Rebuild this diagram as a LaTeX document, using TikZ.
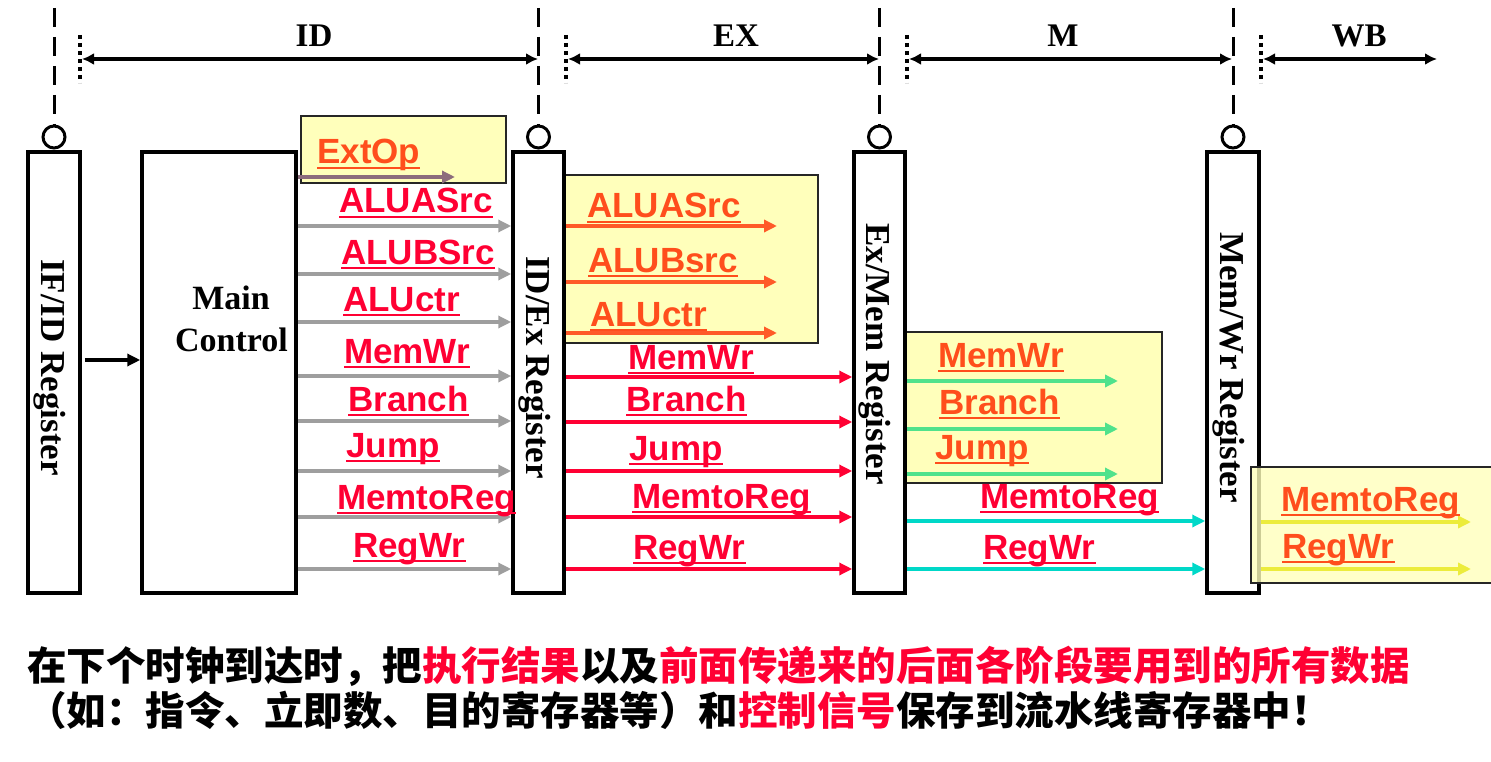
\documentclass[tikz,border=0pt]{standalone}
\usepackage{fontspec}
\setmainfont{Liberation Serif}
\newfontfamily\arialf{Liberation Sans}
\newfontfamily\cjk{Noto Sans CJK SC}
\usetikzlibrary{arrows.meta}
\definecolor{cred}{RGB}{255,0,51}
\definecolor{corange}{RGB}{255,78,28}
\definecolor{caro}{RGB}{255,90,40}
\definecolor{cgray}{RGB}{158,158,158}
\definecolor{cyel}{RGB}{255,255,187}
\definecolor{cgreen}{RGB}{80,226,140}
\definecolor{ccyan}{RGB}{0,216,200}
\definecolor{cyarrow}{RGB}{236,236,60}
\definecolor{cmauve}{RGB}{140,108,124}
\tikzset{
  reg/.style={draw=black, line width=3.5pt, fill=white, inner sep=0pt},
  regtext/.style={rotate=-90, anchor=base, inner sep=0pt, font=\bfseries\fontsize{35}{35}\selectfont},
  clk/.style={circle, draw=black, line width=3pt, fill=white, minimum size=22pt, inner sep=0pt},
  clkline/.style={draw=black, line width=3pt, dash pattern=on 19pt off 10pt},
  dotline/.style={draw=black, line width=3.5pt, dash pattern=on 4pt off 4pt},
  stagearrow/.style={draw=black, line width=3.5pt, {Latex[length=12pt,width=12pt]}-{Latex[length=12pt,width=12pt]}},
  stagelab/.style={anchor=base, inner sep=0pt, font=\bfseries\fontsize{33}{33}\selectfont},
  ybox/.style={draw=black!85, line width=2pt, fill=cyel},
  sig/.style={anchor=base west, inner sep=0pt, font=\arialf\bfseries\fontsize{35}{35}\selectfont},
  tipA/.style={-{Triangle[length=13pt,width=12pt]}},
  garrow/.style={tipA, draw=cgray, line width=4pt},
  rarrow/.style={tipA, draw=cred, line width=3.5pt},
  oarrow/.style={tipA, draw=caro, line width=3.5pt},
  grarrow/.style={tipA, draw=cgreen, line width=4pt},
  carrow/.style={tipA, draw=ccyan, line width=4pt},
  yarrow/.style={tipA, draw=cyarrow, line width=4pt},
  marrow/.style={tipA, draw=cmauve, line width=3.5pt},
  blkarrow/.style={-{Triangle[length=13pt,width=12pt]}, draw=black, line width=3.5pt},
  cjktext/.style={anchor=base west, inner sep=0pt, font=\cjk\bfseries\fontsize{39.5}{40}\selectfont}
}
\newcommand\siglab[4]{%
  \node[sig, text=#3] (#1) at (#2) {#4};
  \draw[#3, line width=2.5pt] ([yshift=-4pt]#1.base west) -- ([yshift=-4pt]#1.base east);
}
\begin{document}
\begin{tikzpicture}[x=1pt, y=-1pt]
\useasboundingbox (0,0) rectangle (1491,762);
\clip (0,0) rectangle (1491,762);

% stage markers
\foreach \n/\x in {a/54, b/538.5, c/879.5, d/1233} {
  \coordinate (top\n) at (\x,8);
}
\foreach \n/\x in {a/80, b/566, c/907, d/1261} {
  \coordinate (dt\n) at (\x,35);
  \coordinate (db\n) at (\x,83);
  \draw[dotline] (dt\n) -- (db\n);
}
\coordinate (s1l) at (82,59);   \coordinate (s1r) at (538,59);
\coordinate (s2l) at (568,59);  \coordinate (s2r) at (879,59);
\coordinate (s3l) at (909,59);  \coordinate (s3r) at (1232,59);
\coordinate (s4l) at (1263,59); \coordinate (s4r) at (1437,59);
\draw[stagearrow] (s1l) -- (s1r);
\draw[stagearrow] (s2l) -- (s2r);
\draw[stagearrow] (s3l) -- (s3r);
\draw[stagearrow] (s4l) -- (s4r);
\node[stagelab] (stID) at (314,47) {ID};
\node[stagelab] (stEX) at (736,47) {EX};
\node[stagelab] (stM) at (1063,47) {M};
\node[stagelab] (stWB) at (1359,47) {WB};

% yellow boxes (behind)
\node[ybox, minimum width=205pt, minimum height=67pt, inner sep=0pt] (boxext) at (403.5,149.5) {};
\node[ybox, minimum width=254pt, minimum height=168pt, inner sep=0pt] (boxex) at (691,259) {};
\node[ybox, minimum width=256pt, minimum height=151pt, inner sep=0pt] (boxm) at (1034,407.5) {};

% registers
\node[reg, minimum width=52pt, minimum height=441pt] (ifid) at (54,372.5) {};
\node[reg, minimum width=154pt, minimum height=441pt] (mc) at (219,372.5) {};
\node[reg, minimum width=51pt, minimum height=441pt] (idex) at (538.5,372.5) {};
\node[reg, minimum width=51pt, minimum height=441pt] (exmem) at (879.5,372.5) {};
\node[reg, minimum width=52pt, minimum height=441pt] (memwr) at (1233,372.5) {};

\node[regtext] (tifid) at (41,367.5) {IF/ID Register};
\node[regtext] (tidex) at (526,367.5) {ID/Ex Register};
\node[regtext] (texmem) at (866,354) {Ex/Mem Register};
\node[regtext] (tmemwr) at (1220,367.5) {Mem/Wr Register};
\node[anchor=base, inner sep=0pt, font=\bfseries\fontsize{34}{34}\selectfont] (mc1) at (231,309) {Main};
\node[anchor=base, inner sep=0pt, font=\bfseries\fontsize{34}{34}\selectfont] (mc2) at (231.5,351) {Control};

% clocks
\node[clk] (ca) at (54,137) {};
\node[clk] (cb) at (538.5,137) {};
\node[clk] (cc) at (879.5,137) {};
\node[clk] (cd) at (1233,137) {};
\draw[clkline] (topa) -- (ca.north);
\draw[clkline] (topb) -- (cb.north);
\draw[clkline] (topc) -- (cc.north);
\draw[clkline] (topd) -- (cd.north);

% IF/ID -> Main Control
\draw[blkarrow] ([xshift=3pt]ifid.east |- 0,360) -- (mc.west |- 0,360);

% end points in free space
\coordinate (extend) at (455,0);
\coordinate (exend) at (777,0);
\coordinate (mend) at (1118,0);
\coordinate (wend) at (1471,0);

% arrows
\draw[marrow] (mc.east |- 0,177) -- (extend |- 0,177);
\foreach \y in {226,274,322,376,421,471,517,569}
  \draw[garrow] (mc.east |- 0,\y) -- (idex.west |- 0,\y);
\foreach \y in {226,282,333}
  \draw[oarrow] (idex.east |- 0,\y) -- (exend |- 0,\y);
\foreach \y in {377,422,471,517,569}
  \draw[rarrow] (idex.east |- 0,\y) -- (exmem.west |- 0,\y);
\foreach \y in {381,429,474}
  \draw[grarrow] (exmem.east |- 0,\y) -- (mend |- 0,\y);
\foreach \y in {521,569}
  \draw[carrow] (exmem.east |- 0,\y) -- (memwr.west |- 0,\y);

% WB box (translucent, over the register)
\node[ybox, fill opacity=0.8, minimum width=250pt, minimum height=116pt, inner sep=0pt] (boxwb) at (1376,525) {};
\foreach \y in {522,569}
  \draw[yarrow] (memwr.east |- 0,\y) -- (wend |- 0,\y);

% labels
\siglab{tExt}{317,164}{corange}{ExtOp}
\siglab{tAa}{339,213}{cred}{ALUASrc}
\siglab{tAb}{341,264}{cred}{ALUBSrc}
\siglab{tAc}{343,311}{cred}{ALUctr}
\siglab{tMw}{344,363}{cred}{MemWr}
\siglab{tBr}{348,411}{cred}{Branch}
\siglab{tJp}{346,457}{cred}{Jump}
\siglab{tMr}{337,509}{cred}{MemtoReg}
\siglab{tRw}{353,557}{cred}{RegWr}

\siglab{eAa}{587,218}{corange}{ALUASrc}
\siglab{eAb}{588,272}{corange}{ALUBsrc}
\siglab{eAc}{590,326}{corange}{ALUctr}
\siglab{eMw}{628,369}{cred}{MemWr}
\siglab{eBr}{626,411}{cred}{Branch}
\siglab{eJp}{629,460}{cred}{Jump}
\siglab{eMr}{632,508}{cred}{MemtoReg}
\siglab{eRw}{633,559}{cred}{RegWr}

\siglab{mMw}{938,367}{corange}{MemWr}
\siglab{mBr}{939,414}{corange}{Branch}
\siglab{mJp}{935,459}{corange}{Jump}
\siglab{mMr}{980,508}{cred}{MemtoReg}
\siglab{mRw}{983,559}{cred}{RegWr}

\siglab{wMr}{1281,511}{corange}{MemtoReg}
\siglab{wRw}{1282,558}{corange}{RegWr}

% caption
\node[cjktext] (line1) at (27,680) {在下个时钟到达时，把\textcolor{cred}{执行结果}以及\textcolor{cred}{前面传递来的后面各阶段要用到的所有数据}};
\node[cjktext] (line2) at (27,725) {（如：指令、立即数、目的寄存器等）和\textcolor{cred}{控制信号}保存到流水线寄存器中！};
\end{tikzpicture}
\end{document}
